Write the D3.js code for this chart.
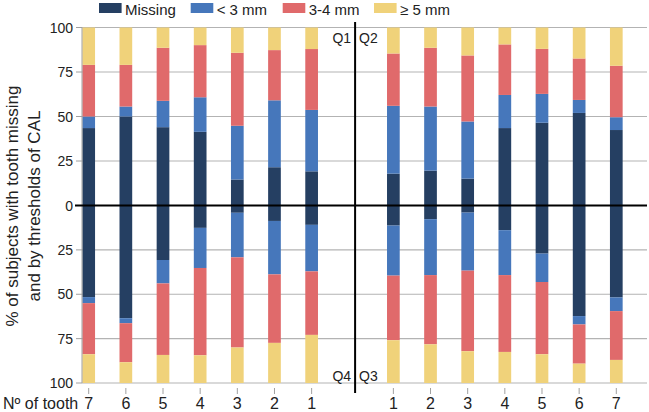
<!DOCTYPE html>
<html><head><meta charset="utf-8">
<script src="https://cdn.jsdelivr.net/npm/d3@7"></script>
<style>body{margin:0;background:#fff;}svg{display:block;font-family:"Liberation Sans",Arial,sans-serif;}</style>
</head><body>
<svg id="c" width="649" height="412"></svg>
<script>
const teethLeft = [7,6,5,4,3,2,1];
const teethRight = [1,2,3,4,5,6,7];
const seriesNames = ["Missing","< 3 mm","3-4 mm","\u2265 5 mm"];
const seriesColors = ["#253f62","#4677bb","#e06a6b","#f0d27a"];
const yTicks = [0,25,50,75,100];
// Q1 upper left (teeth 7..1)
const q1Missing = [43.5,50,44,41.4,14.6,21.5,19.2];
const q1Lt3     = [6.5,5.6,14.8,19.4,30.2,37.6,34.5];
const q1Mm34    = [29,23.4,29.8,29.3,41,28.2,34.2];
const q1Ge5     = [21,21,11.4,9.9,14.2,12.7,12.1];
// Q2 upper right (teeth 1..7)
const q2Missing = [17.9,19.6,15.1,43.5,46.5,52,42.4];
const q2Lt3     = [38.1,36,32.1,18.6,16.2,7.3,7.2];
const q2Mm34    = [29.4,33,37.1,28.4,25.3,23.3,28.9];
const q2Ge5     = [14.6,11.4,15.7,9.5,12,17.4,21.5];
// Q4 lower left (teeth 7..1)
const q4Missing = [51.6,63.5,30.7,12.6,4.1,8.7,10.9];
const q4Lt3     = [3.4,2.8,13.2,22.6,25.1,30.1,26.2];
const q4Mm34    = [28.8,22,40.3,49.2,50.8,38.6,35.8];
const q4Ge5     = [16.2,11.7,15.8,15.6,20,22.6,27.1];
// Q3 lower right (teeth 1..7)
const q3Missing = [11.3,7.7,4,13.9,27.1,62.3,51.8];
const q3Lt3     = [28.2,31.5,32.7,25.3,16,4.7,7.7];
const q3Mm34    = [36.4,39,45.4,43.3,40.7,22.1,27.5];
const q3Ge5     = [24.1,21.8,17.9,17.5,16.2,10.9,13];

const svg = d3.select("#c");
const x = d3.scaleLinear().domain([0,14.2]).range([88.7,616.3]);
const slotLeft = i => i, slotRight = j => 8.2 + j, slotDivider = 7.17;
const yUp = d3.scaleLinear().domain([0,100]).range([205.5,27.5]);
const yDn = d3.scaleLinear().domain([0,100]).range([205.5,383]);
const xL = 82, xR = 647, barW = 12.7;

// grid
const g = svg.append("g");
yTicks.filter(v=>v>0).forEach(v=>{
  [yUp,yDn].forEach(s=>{
    g.append("line").attr("x1",xL).attr("x2",xR).attr("y1",s(v)).attr("y2",s(v))
     .attr("stroke","#b3b3b3").attr("stroke-width",1.2);
  });
});

function buildRows(teeth, arrs){
  return teeth.map((t,i)=>({tooth:t, idx:i, s0:arrs[0][i], s1:arrs[1][i], s2:arrs[2][i], s3:arrs[3][i]}));
}
const stack = d3.stack().keys(["s0","s1","s2","s3"]);
const quads = [
  {rows:buildRows(teethLeft,[q1Missing,q1Lt3,q1Mm34,q1Ge5]), y:yUp, pos:slotLeft},
  {rows:buildRows(teethRight,[q2Missing,q2Lt3,q2Mm34,q2Ge5]), y:yUp, pos:slotRight},
  {rows:buildRows(teethLeft,[q4Missing,q4Lt3,q4Mm34,q4Ge5]), y:yDn, pos:slotLeft},
  {rows:buildRows(teethRight,[q3Missing,q3Lt3,q3Mm34,q3Ge5]), y:yDn, pos:slotRight},
];
quads.forEach(q=>{
  const st = stack(q.rows);
  st.forEach((layer,k)=>{
    svg.append("g").attr("fill",seriesColors[k]).selectAll("rect").data(layer).join("rect")
      .attr("x",d=>x(q.pos(d.data.idx))-barW/2).attr("width",barW)
      .attr("y",d=>Math.min(q.y(d[0]),q.y(d[1])))
      .attr("height",d=>Math.abs(q.y(d[1])-q.y(d[0])));
  });
});

// y axis
svg.append("line").attr("x1",xL).attr("x2",xL).attr("y1",yUp(100)).attr("y2",yDn(100)).attr("stroke","#a0a0a0");
const yAxisTicks = yTicks.filter(v=>v>0).map(v=>({v,s:yUp})).concat([{v:0,s:yUp}]).concat(yTicks.filter(v=>v>0).map(v=>({v,s:yDn})));
yAxisTicks.forEach(t=>{
  svg.append("line").attr("x1",xL-6).attr("x2",xL).attr("y1",t.s(t.v)).attr("y2",t.s(t.v)).attr("stroke","#a0a0a0");
  svg.append("text").attr("x",73).attr("y",t.s(t.v)).attr("dy","0.36em").attr("text-anchor","end")
    .attr("font-size",14).attr("fill","#222").text(t.v);
});
// zero line
svg.append("line").attr("x1",75).attr("x2",xR).attr("y1",yUp(0)).attr("y2",yUp(0)).attr("stroke","#000").attr("stroke-width",2);
// divider
svg.append("line").attr("x1",x(slotDivider)).attr("x2",x(slotDivider)).attr("y1",22).attr("y2",393).attr("stroke","#000").attr("stroke-width",2);

// x ticks & labels
const xt = teethLeft.map((t,i)=>({t,p:slotLeft(i)})).concat(teethRight.map((t,j)=>({t,p:slotRight(j)})));
xt.forEach(d=>{
  svg.append("line").attr("x1",x(d.p)).attr("x2",x(d.p)).attr("y1",388).attr("y2",394).attr("stroke","#a0a0a0");
  svg.append("text").attr("x",x(d.p)).attr("y",409).attr("text-anchor","middle").attr("font-size",16).attr("fill","#222").text(d.t);
});
svg.append("text").attr("x",3).attr("y",409).attr("font-size",16).attr("fill","#222").text("N\u00ba of tooth");

// quadrant labels
const qd = x(slotDivider);
[["Q1",qd-4,43,"end"],["Q2",qd+4,43,"start"],["Q4",qd-4,381,"end"],["Q3",qd+4,381,"start"]].forEach(d=>{
  svg.append("text").attr("x",d[1]).attr("y",d[2]).attr("text-anchor",d[3]).attr("font-size",14).attr("fill","#222").text(d[0]);
});

// y label
const yl = svg.append("text").attr("transform","translate(0,206) rotate(-90)").attr("text-anchor","middle").attr("font-size",17).attr("fill","#222");
yl.append("tspan").attr("x",0).attr("y",18).text("% of subjects with tooth missing");
yl.append("tspan").attr("x",0).attr("y",40).text("and by thresholds of CAL");

// legend
const legX = [99,190.7,282.7,374];
seriesNames.forEach((n,k)=>{
  svg.append("rect").attr("x",legX[k]).attr("y",3).attr("width",22.6).attr("height",10).attr("fill",seriesColors[k]);
  svg.append("text").attr("x",legX[k]+26).attr("y",14.5).attr("font-size",15).attr("fill","#222").text(n);
});
</script>
</body></html>
